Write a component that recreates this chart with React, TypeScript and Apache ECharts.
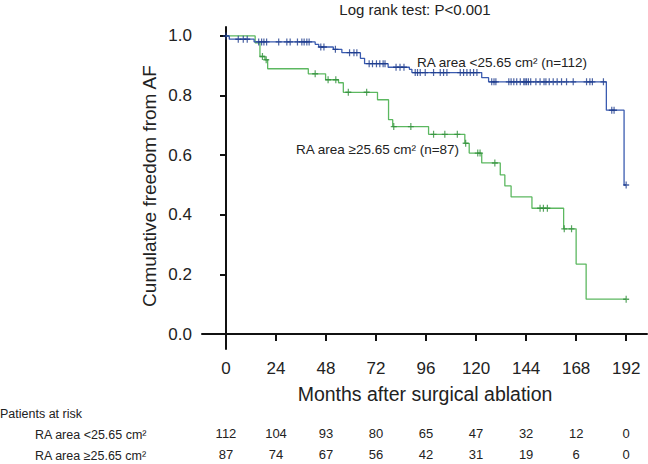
import React, { useEffect, useRef } from "react";
import * as echarts from "echarts";

// ---- Data ----
const months = [0, 24, 48, 72, 96, 120, 144, 168, 192];
const yTicks = [0, 0.2, 0.4, 0.6, 0.8, 1.0];
const riskLow = [112, 104, 93, 80, 65, 47, 32, 12, 0];
const riskHigh = [87, 74, 67, 56, 42, 31, 19, 6, 0];

// RA area <25.65 cm2 (n=112): event times and survival after each step
const lowTimes = [0, 1.6, 13.5, 42.8, 44.5, 51.5, 55.6, 64.5, 66.5, 77.8, 88, 89.2, 122.7, 126, 182.5, 191];
const lowSurv = [1.0, 0.989, 0.98, 0.972, 0.963, 0.955, 0.944, 0.925, 0.907, 0.895, 0.888, 0.877, 0.86, 0.846, 0.751, 0.5];
const lowCensor = [0, 5.9, 8.3, 10.2, 15.7, 17.1, 18.2, 19.5, 25.3, 29.2, 30.8, 34.3, 36.4, 37.5, 38.8, 39.9,
  45.5, 47, 52.5, 59.3, 61.4, 62.8, 68.7, 70.3, 72.2, 73.8, 75.4, 76.3, 81.6, 83.5, 85.4,
  90.8, 91.9, 93.2, 95.6, 99.6, 102.8, 104.4, 106, 112.4, 114, 115.6, 117.2, 118.8, 120.4,
  127.5, 128.6, 129.5, 135.7, 136.8, 138.1, 139.5, 141.2, 142.9, 143.5, 144.2, 145.1, 146.2, 148.7,
  150.7, 152.6, 153.5, 155.1, 157, 158.9, 161, 163.4, 166.6, 173, 174.6, 175.8, 181.1, 185.1, 186.2, 192];

// RA area >=25.65 cm2 (n=87)
const highTimes = [0, 14, 16.3, 18.7, 20, 39.5, 47.8, 54, 56.3, 72.7, 78, 80, 97.2, 114.6, 116.7, 122.7, 131.6, 133.8, 136.8, 146.8, 162, 168, 172.8];
const highSurv = [1.0, 0.977, 0.931, 0.92, 0.89, 0.873, 0.853, 0.843, 0.811, 0.786, 0.719, 0.696, 0.67, 0.64, 0.607, 0.574, 0.534, 0.497, 0.46, 0.422, 0.353, 0.235, 0.117];
const highCensor = [17.5, 19.3, 42.8, 49, 52.7, 58.7, 67.5, 80.5, 88.7, 99.6, 105, 111, 115, 120.8, 121.9, 129,
  150.7, 152.3, 154.2, 162.3, 165.8, 192];

const endTime = 192;

function stepData(times: number[], surv: number[]) {
  const d = times.map((t, i) => [t, surv[i]]);
  d.push([endTime, surv[surv.length - 1]]);
  return d;
}
function survAt(times: number[], surv: number[], t: number) {
  let s = surv[0];
  for (let i = 0; i < times.length; i++) if (times[i] <= t) s = surv[i];
  return s;
}
function censorData(times: number[], surv: number[], cens: number[]) {
  return cens.map((t) => [t, survAt(times, surv, t)]);
}

const FONT = "Liberation Sans, Arial, Helvetica, sans-serif";
const PLUS = "path://M4,0 h2 v4 h4 v2 h-4 v4 h-2 v-4 h-4 v-2 h4 z";

export default function App() {
  const ref = useRef<HTMLDivElement>(null);
  useEffect(() => {
    if (!ref.current) return;
    const chart = echarts.init(ref.current, undefined, { renderer: "svg" });
    const riskAxis = (vals: number[], offset: number) => ({
      type: "value",
      position: "bottom",
      offset,
      min: -11.5,
      max: 202,
      axisLine: { show: false },
      axisTick: { show: false },
      splitLine: { show: false },
      axisLabel: {
        customValues: months,
        margin: 0,
        fontSize: 13,
        color: "#222",
        fontFamily: FONT,
        formatter: (v: number) => String(vals[months.indexOf(v)]),
      },
    });
    chart.setOption({
      animation: false,
      backgroundColor: "#fff",
      grid: { left: 202, right: 1, top: 27, bottom: 115, outerBoundsMode: "none" },
      xAxis: [
        {
          type: "value",
          min: -11.5,
          max: 202,
          axisLine: { show: true, lineStyle: { color: "#111", width: 2 } },
          axisTick: { show: true, customValues: months, length: 7, lineStyle: { color: "#111", width: 2 } },
          axisLabel: { customValues: months, fontSize: 17, color: "#222", margin: 11, fontFamily: FONT },
          splitLine: { show: false },
        },
        riskAxis(riskLow, 78),
        riskAxis(riskHigh, 99),
      ],
      yAxis: {
        type: "value",
        min: -0.05,
        max: 1.03,
        axisLine: { show: true, lineStyle: { color: "#111", width: 2 } },
        axisTick: { show: true, customValues: yTicks, length: 6, lineStyle: { color: "#111", width: 2 } },
        axisLabel: {
          customValues: yTicks,
          fontSize: 17,
          color: "#222",
          margin: 10,
          fontFamily: FONT,
          formatter: (v: number) => v.toFixed(1),
        },
        splitLine: { show: false },
      },
      series: [
        {
          type: "line",
          step: "end",
          xAxisIndex: 0,
          data: stepData(highTimes, highSurv),
          showSymbol: false,
          lineStyle: { color: "#5cb860", width: 1.3 },
          z: 2,
        },
        {
          type: "line",
          step: "end",
          xAxisIndex: 0,
          data: stepData(lowTimes, lowSurv),
          showSymbol: false,
          lineStyle: { color: "#3a5bb0", width: 1.3 },
          z: 3,
        },
        {
          type: "scatter",
          xAxisIndex: 0,
          data: censorData(highTimes, highSurv, highCensor),
          symbol: PLUS,
          symbolSize: [6, 7],
          itemStyle: { color: "#2f8f3a" },
          z: 4,
        },
        {
          type: "scatter",
          xAxisIndex: 0,
          data: censorData(lowTimes, lowSurv, lowCensor),
          symbol: PLUS,
          symbolSize: [6, 7],
          itemStyle: { color: "#1d3b8c" },
          z: 5,
        },
      ],
      graphic: [
        {
          type: "text",
          x: 415,
          y: 9,
          style: { text: "Log rank test: P<0.001", font: `15px ${FONT}`, fill: "#222", align: "center", verticalAlign: "middle" },
        },
        {
          type: "text",
          x: 149,
          y: 186,
          rotation: Math.PI / 2,
          style: { text: "Cumulative freedom from AF", font: `19px ${FONT}`, fill: "#222", align: "center", verticalAlign: "middle" },
        },
        {
          type: "text",
          x: 425,
          y: 394,
          style: { text: "Months after surgical ablation", font: `19.5px ${FONT}`, fill: "#222", align: "center", verticalAlign: "middle" },
        },
        {
          type: "text",
          x: 417,
          y: 62,
          style: { text: "RA area <25.65 cm² (n=112)", font: `13.5px ${FONT}`, fill: "#222", align: "left", verticalAlign: "middle" },
        },
        {
          type: "text",
          x: 296,
          y: 149,
          style: { text: "RA area ≥25.65 cm² (n=87)", font: `13.5px ${FONT}`, fill: "#222", align: "left", verticalAlign: "middle" },
        },
        {
          type: "text",
          x: 0,
          y: 414,
          style: { text: "Patients at risk", font: `12.5px ${FONT}`, fill: "#222", align: "left", verticalAlign: "middle" },
        },
        {
          type: "text",
          x: 35,
          y: 435,
          style: { text: "RA area <25.65 cm²", font: `12.5px ${FONT}`, fill: "#222", align: "left", verticalAlign: "middle" },
        },
        {
          type: "text",
          x: 35,
          y: 456,
          style: { text: "RA area ≥25.65 cm²", font: `12.5px ${FONT}`, fill: "#222", align: "left", verticalAlign: "middle" },
        },
      ],
    });
    return () => chart.dispose();
  }, []);
  return <div ref={ref} style={{ width: 648, height: 464, position: "absolute", left: 0, top: 0 }} />;
}
